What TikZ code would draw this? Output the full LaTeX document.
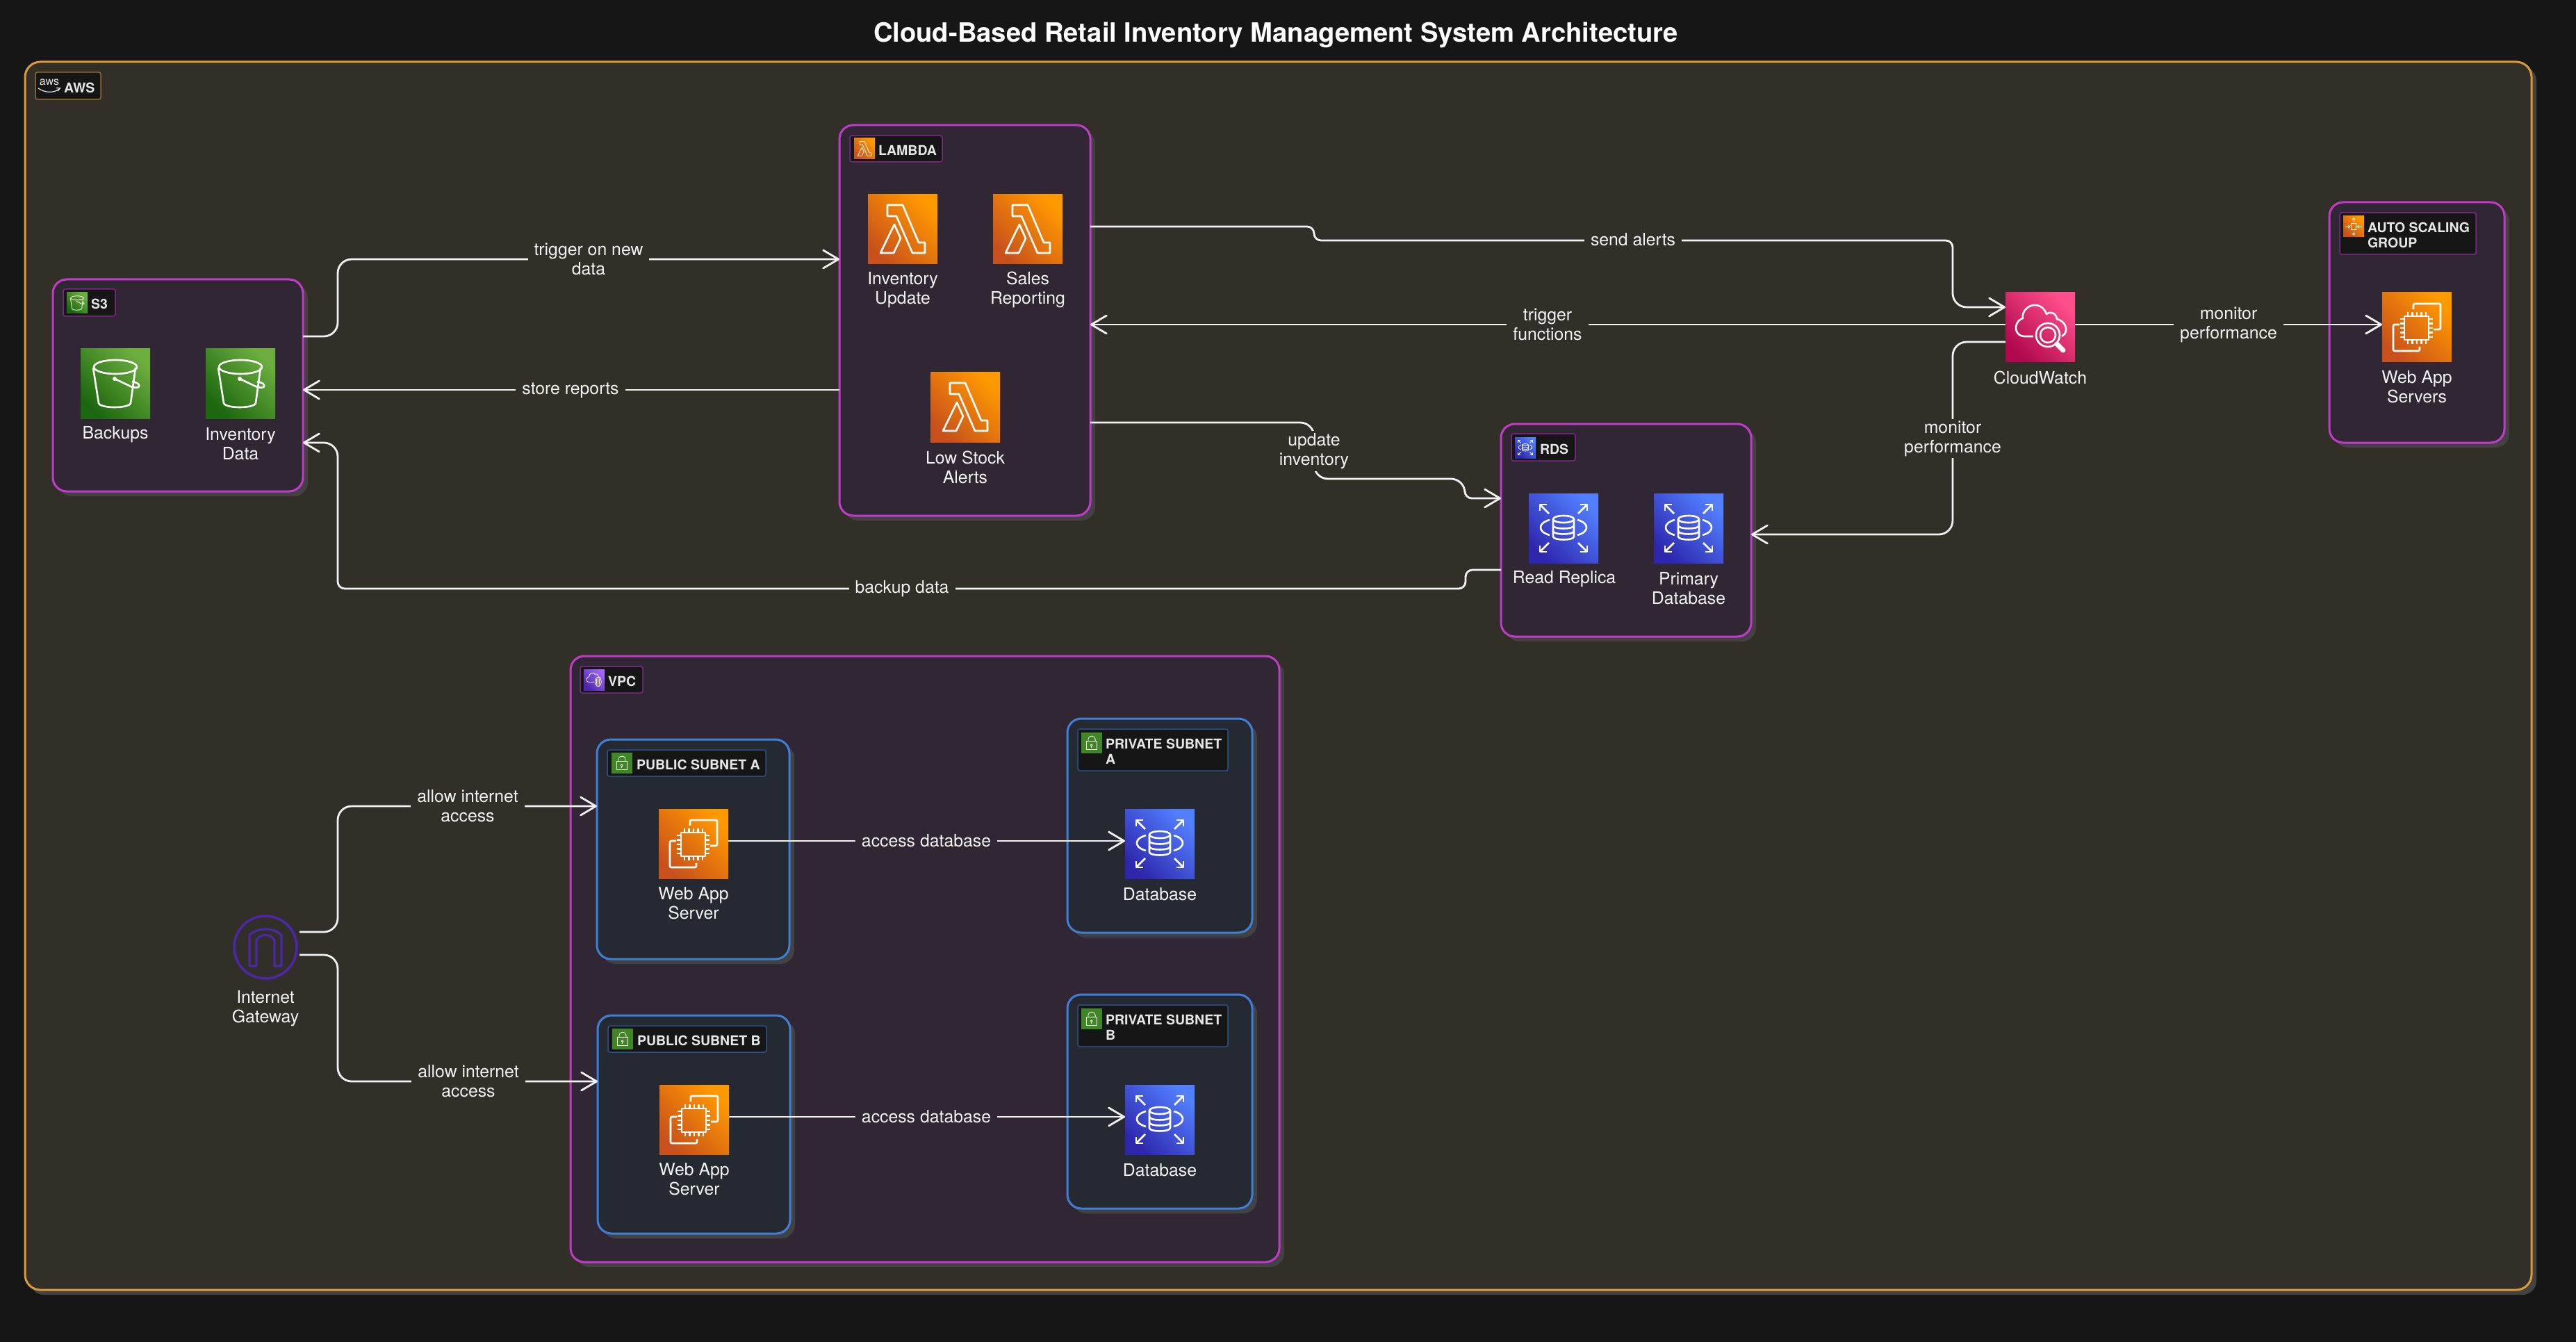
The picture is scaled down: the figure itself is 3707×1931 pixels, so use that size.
\documentclass[tikz,border=0pt]{standalone}
\usepackage{fontspec}
\setmainfont{TeX Gyre Heros}
\usetikzlibrary{arrows.meta,calc,shapes.geometric}
\definecolor{bgc}{HTML}{161616}
\definecolor{awsfill}{HTML}{322F28}
\definecolor{awsline}{HTML}{DC9A36}
\definecolor{awslab}{HTML}{8F6A33}
\definecolor{grpfill}{HTML}{312634}
\definecolor{grpline}{HTML}{C03CC8}
\definecolor{grplab}{HTML}{7A2A84}
\definecolor{subfill}{HTML}{252A32}
\definecolor{subline}{HTML}{3F7FD8}
\definecolor{sublab}{HTML}{2C4F84}
\definecolor{shadowc}{HTML}{424242}
\definecolor{txtc}{HTML}{F2F2F2}
\definecolor{labtxt}{HTML}{E6E6E6}
\definecolor{igwc}{HTML}{4D27AA}
\definecolor{orgA}{HTML}{C8511B}\definecolor{orgB}{HTML}{FF9900}
\definecolor{grnA}{HTML}{1B660F}\definecolor{grnB}{HTML}{6CAE3E}
\definecolor{bluA}{HTML}{2E27AD}\definecolor{bluB}{HTML}{527FFF}
\definecolor{pnkA}{HTML}{B0084D}\definecolor{pnkB}{HTML}{FF4F8B}
\definecolor{purA}{HTML}{4D27AA}\definecolor{purB}{HTML}{A166FF}
\definecolor{lockc}{HTML}{3F8624}
\tikzset{
  outer sep=0pt,
  awsbox/.style={draw=awsline,fill=awsfill,line width=1.5pt,rounded corners=11pt},
  grpbx/.style={draw=grpline,fill=grpfill,line width=1.5pt,rounded corners=10pt},
  subbx/.style={draw=subline,fill=subfill,line width=1.5pt,rounded corners=10pt},
  labaws/.style={draw=awslab,fill=bgc,line width=.75pt,rounded corners=1.5pt},
  labgrp/.style={draw=grplab,fill=bgc,line width=.75pt,rounded corners=1.5pt},
  labsub/.style={draw=sublab,fill=bgc,line width=.75pt,rounded corners=1.5pt},
  labtext/.style={font=\bfseries\fontsize{9.75}{11}\selectfont,text=labtxt,inner sep=0pt,align=left,anchor=west},
  svctext/.style={font=\fontsize{12.4}{14}\selectfont,text=txtc,inner sep=0pt,align=center,yshift=-1pt},
  elab/.style={font=\fontsize{12.4}{14}\selectfont,text=txtc,inner xsep=4.5pt,inner ysep=1.5pt,align=center,fill=awsfill,yshift=-1pt},
  elabv/.style={elab,fill=grpfill},
  conn/.style={draw=txtc,line width=1.4pt,-{Straight Barb[length=11pt,width=13pt,line width=1.4pt,round]}},
  gl/.style={draw=white,line join=round,fill=none},
  icobox/.style={inner sep=0pt},
  corange/.style={bottom color=orgA,top color=orgB,shading angle=-45},
  cgreen/.style={bottom color=grnA,top color=grnB,shading angle=-45},
  cblue/.style={bottom color=bluA,top color=bluB,shading angle=-45},
  cpink/.style={bottom color=pnkA,top color=pnkB,shading angle=-45},
  cpurple/.style={bottom color=purA,top color=purB,shading angle=-45},
  clock/.style={fill=lockc},
}
% name, style, x0,y0,x1,y1
\newcommand{\grpbox}[6]{%
  \pgfmathsetmacro{\bw}{(#5-#3)/2}\pgfmathsetmacro{\bh}{(#6-#4)/2}%
  \fill[shadowc,rounded corners=10pt] (#3+7,#4+7) rectangle (#5+7,#6+7);
  \node[#2,minimum width=\bw pt,minimum height=\bh pt,anchor=north west] (#1) at (#3,#4) {};
}
\newcommand{\labbox}[6]{%
  \pgfmathsetmacro{\bw}{(#5-#3)/2}\pgfmathsetmacro{\bh}{(#6-#4)/2}%
  \node[#2,minimum width=\bw pt,minimum height=\bh pt,anchor=north west] (#1) at (#3,#4) {};
}
% name, colour, glyph, x, y, size
\newcommand{\svcicon}[6]{%
  \pgfmathsetmacro{\bs}{#6/2}\pgfmathsetmacro{\su}{#6/200}%
  \pgfmathsetmacro{\lw}{#6*0.013}%
  \node[icobox,#2,minimum size=\bs pt,anchor=north west] (#1) at (#4,#5) {};
  \begin{scope}[shift={(#4,#5)},x=\su pt,y=-\su pt,line width=\lw pt]
    #3
  \end{scope}
}
\newcommand{\gBucket}{%
  \draw[gl] (50,26) ellipse [x radius=31,y radius=10];
  \draw[gl] (18,27) -- (26,78) .. controls (28,86) and (70,86) .. (72,78) -- (79,27);
  \fill[white] (49,43) circle [radius=3];
  \draw[gl] (49,43) -- (72,54) .. controls (80,57) and (86,56) .. (84,52) .. controls (83,49) and (78,48) .. (74,47);
}
\newcommand{\gLambda}{%
  \draw[gl] (28,15) -- (50,15) -- (73,69) -- (82,69) -- (82,84) -- (64,84) -- (41,31) -- (28,31) -- cycle;
  \draw[gl] (38,43) -- (47,63) -- (37,84) -- (18,84) -- cycle;
}
\newcommand{\gChip}{%
  \draw[gl] (32,34) rectangle (67,68);
  \foreach \p in {37,43.5,50,56.5,63} {\draw[gl] (\p,28) -- (\p,34); \draw[gl] (\p,68) -- (\p,74);}
  \foreach \p in {38,44.5,51,57.5,64} {\draw[gl] (26,\p) -- (32,\p); \draw[gl] (67,\p) -- (73,\p);}
  \draw[gl,rounded corners=1pt] (45,24) -- (45,16) -- (84,16) -- (84,53) -- (74,53);
  \draw[gl,rounded corners=1pt] (25,46) -- (16,46) -- (16,84) -- (54,84) -- (54,78);
}
\newcommand{\gRDS}{%
  \draw[gl] (50,37) ellipse [x radius=15,y radius=5];
  \draw[gl] (35,37) -- (35,62) .. controls (35,68) and (65,68) .. (65,62) -- (65,37);
  \draw[gl] (35,46) .. controls (35,52) and (65,52) .. (65,46);
  \draw[gl] (35,54) .. controls (35,60) and (65,60) .. (65,54);
  \draw[gl] (30,38) .. controls (20,41) and (17,45) .. (17,49) .. controls (17,53) and (20,57) .. (30,60);
  \draw[gl] (70,38) .. controls (80,41) and (83,45) .. (83,49) .. controls (83,53) and (80,57) .. (70,60);
  \draw[gl] (29,29) -- (16,16); \draw[gl] (16,25) -- (16,16) -- (26,16);
  \draw[gl] (71,29) -- (84,16); \draw[gl] (84,25) -- (84,16) -- (74,16);
  \draw[gl] (29,71) -- (16,84); \draw[gl] (16,75) -- (16,84) -- (26,84);
  \draw[gl] (71,71) -- (84,84); \draw[gl] (84,75) -- (84,84) -- (74,84);
}
\newcommand{\gWatch}{%
  \draw[gl] (40,63) -- (28,63) .. controls (18,63) and (14,55) .. (15,49) .. controls (16,42) and (21,38) .. (25,37) .. controls (23,28) and (32,18) .. (42,18) .. controls (51,18) and (57,24) .. (59,31) .. controls (65,26) and (73,30) .. (74,38) .. controls (82,40) and (88,47) .. (87,55) .. controls (87,58) and (85,60) .. (81,63);
  \draw[gl] (61,61) circle [radius=17];
  \draw[gl] (61,61) circle [radius=11];
  \draw[gl,line width=3.5pt,line cap=round] (74,74) -- (83,83);
}
\newcommand{\gLock}{%
  \draw[gl] (26,41) rectangle (74,81);
  \draw[gl] (33,41) -- (33,32) .. controls (33,12) and (67,12) .. (67,32) -- (67,41);
  \draw[gl] (49,61) circle [radius=5];
  \draw[gl] (49,66) -- (49,73);
}
\newcommand{\gASG}{%
  \draw[gl] (38,36) rectangle (62,64);
  \draw[gl] (50,28) -- (50,10); \draw[gl] (43,17) -- (50,10) -- (57,17);
  \draw[gl] (50,72) -- (50,90); \draw[gl] (43,83) -- (50,90) -- (57,83);
  \draw[gl] (10,50) -- (32,50); \draw[gl] (25,43) -- (32,50) -- (25,57);
  \draw[gl] (90,50) -- (68,50); \draw[gl] (75,43) -- (68,50) -- (75,57);
}
\newcommand{\gVPC}{%
  \draw[gl] (50,62) -- (25,62) .. controls (10,62) and (10,38) .. (25,36) .. controls (25,20) and (46,10) .. (54,24) .. controls (62,20) and (72,28) .. (72,36) .. controls (78,38) and (80,42) .. (80,46);
  \draw[gl] (69,60) ellipse [x radius=15,y radius=22];
  \draw[gl] (62,46) -- (62,74); \draw[gl] (69,40) -- (69,80); \draw[gl] (76,46) -- (76,74);
}
\begin{document}
\begin{tikzpicture}[x=.5pt,y=-.5pt]
\useasboundingbox (0,0) rectangle (3707,1931);
\fill[bgc] (0,0) rectangle (3707,1931);
\node[font=\bfseries\fontsize{19.1}{24}\selectfont,text=white,inner sep=0pt] (title) at (1836,50) {Cloud-Based Retail Inventory Management System Architecture};

% containers
\grpbox{aws}{awsbox}{36}{89}{3643}{1856}
\labbox{awslabel}{labaws}{51}{104}{145}{143}
\node[font=\fontsize{8}{8}\selectfont,text=labtxt,inner sep=0pt] (awslogo) at (71,118) {aws};
\draw[labtxt,line width=.6pt] (55,127) .. controls (65,134) and (78,134) .. (85,128);
\draw[labtxt,line width=.6pt] (81,126.5) -- (86.5,127) -- (83,131);
\node[labtext] (awstext) at (92,126) {AWS};

\grpbox{s3}{grpbx}{76}{402}{436}{707}
\labbox{s3label}{labgrp}{91}{416}{166}{455}
\svcicon{s3i}{cgreen}{\gBucket}{96}{421}{30}
\node[labtext] (s3text) at (131,437) {S3};
\svcicon{backups}{cgreen}{\gBucket}{116}{502}{100}
\svcicon{invdata}{cgreen}{\gBucket}{296}{502}{100}
\node[svctext] (backupst) at (166,623) {Backups};
\node[svctext] (invdatat) at (346,636.5) {Inventory\\Data};

\grpbox{lambda}{grpbx}{1208}{180}{1569}{742}
\labbox{lamlabel}{labgrp}{1223}{195}{1356}{233}
\svcicon{lami}{corange}{\gLambda}{1229}{199}{30}
\node[labtext] (lamtext) at (1264,216) {LAMBDA};
\svcicon{invupd}{corange}{\gLambda}{1249}{280}{100}
\svcicon{sales}{corange}{\gLambda}{1429}{280}{100}
\svcicon{lowstock}{corange}{\gLambda}{1339}{536}{100}
\node[svctext] (invupdt) at (1299,415) {Inventory\\Update};
\node[svctext] (salest) at (1479,415) {Sales\\Reporting};
\node[svctext] (lowstockt) at (1389,670) {Low Stock\\Alerts};

\grpbox{rds}{grpbx}{2160}{610}{2520}{916}
\labbox{rdslabel}{labgrp}{2175}{624}{2267}{663}
\svcicon{rdsi}{cblue}{\gRDS}{2180}{629}{30}
\node[labtext] (rdstext) at (2216,646) {RDS};
\svcicon{replica}{cblue}{\gRDS}{2200}{710}{100}
\svcicon{primary}{cblue}{\gRDS}{2380}{710}{100}
\node[svctext] (replicat) at (2251,831) {Read Replica};
\node[svctext] (primaryt) at (2430,845) {Primary\\Database};

\grpbox{asg}{grpbx}{3352}{291}{3604}{637}
\labbox{asglabel}{labgrp}{3367}{306}{3563}{366}
\svcicon{asgi}{corange}{\gASG}{3372}{311}{30}
\node[labtext] (asgtext) at (3407,338) {AUTO SCALING\\GROUP};
\svcicon{webapps}{corange}{\gChip}{3428}{421}{100}
\node[svctext] (webappst) at (3478,555) {Web App\\Servers};

\svcicon{cw}{cpink}{\gWatch}{2886}{421}{100}
\node[svctext] (cwt) at (2936,541) {CloudWatch};

\grpbox{vpc}{grpbx}{821}{944}{1841}{1816}
\labbox{vpclabel}{labgrp}{835}{959}{925}{997}
\svcicon{vpci}{cpurple}{\gVPC}{840}{963}{30}
\node[labtext] (vpctext) at (875,980) {VPC};

\grpbox{puba}{subbx}{859}{1064}{1136}{1380}
\labbox{pubalabel}{labsub}{874}{1079}{1102}{1117}
\svcicon{pubai}{clock}{\gLock}{880}{1083}{30}
\node[labtext] (pubatext) at (916,1100) {PUBLIC SUBNET A};
\svcicon{weba}{corange}{\gChip}{948}{1164}{100}
\node[svctext] (webat) at (998,1298) {Web App\\Server};

\grpbox{pubb}{subbx}{860}{1461}{1137}{1775}
\labbox{pubblabel}{labsub}{875}{1476}{1103}{1514}
\svcicon{pubbi}{clock}{\gLock}{881}{1480}{30}
\node[labtext] (pubbtext) at (917,1497) {PUBLIC SUBNET B};
\svcicon{webb}{corange}{\gChip}{949}{1561}{100}
\node[svctext] (webbt) at (999,1695) {Web App\\Server};

\grpbox{priva}{subbx}{1536}{1034}{1802}{1342}
\labbox{privalabel}{labsub}{1551}{1049}{1767}{1109}
\svcicon{privai}{clock}{\gLock}{1556}{1054}{30}
\node[labtext] (privatext) at (1591,1081.5) {PRIVATE SUBNET\\A};
\svcicon{dba}{cblue}{\gRDS}{1619}{1164}{100}
\node[svctext] (dbat) at (1669,1285) {Database};

\grpbox{privb}{subbx}{1536}{1431}{1802}{1739}
\labbox{privblabel}{labsub}{1551}{1446}{1767}{1506}
\svcicon{privbi}{clock}{\gLock}{1556}{1451}{30}
\node[labtext] (privbtext) at (1591,1478.5) {PRIVATE SUBNET\\B};
\svcicon{dbb}{cblue}{\gRDS}{1619}{1561}{100}
\node[svctext] (dbbt) at (1669,1682) {Database};

% internet gateway
\node[circle,draw=igwc,line width=1.75pt,minimum size=45pt,outer sep=2pt,inner sep=0pt] (igw) at (382,1363) {};
\draw[igwc,line width=1.6pt,line join=round] (359,1390) -- (359,1346) .. controls (368,1334) and (396,1334) .. (405,1346) -- (405,1390) -- (395,1390) -- (395,1353) .. controls (390,1343) and (374,1343) .. (369,1353) -- (369,1390) -- cycle;
\node[svctext] (igwt) at (382,1449) {Internet\\Gateway};

% connectors
\draw[conn,rounded corners=10pt] (s3.east |- 0,484) -- (486,484) -- (486,373) -- (lambda.west |- 0,373);
\draw[conn] (lambda.west |- 0,561) -- (s3.east |- 0,561);
\draw[conn] (lambda.east |- 0,326) [rounded corners=5pt] -- (1891,326) -- (1891,346) -- (2810,346) [rounded corners=10pt] -- (2810,442) -- (cw.west |- 0,442);
\draw[conn] (cw.west |- 0,467) -- (lambda.east |- 0,467);
\draw[conn] (lambda.east |- 0,608) [rounded corners=10pt] -- (1891,608) -- (1891,689) -- (2108,689) [rounded corners=5pt] -- (2108,717) -- (rds.west |- 0,717);
\draw[conn] (rds.west |- 0,820) [rounded corners=5pt] -- (2109,820) -- (2109,847) -- (486,847) [rounded corners=10pt] -- (486,637) -- (s3.east |- 0,637);
\draw[conn] (cw.east |- 0,467) -- (webapps.west |- 0,467);
\draw[conn,rounded corners=10pt] (cw.west |- 0,492) -- (2810,492) -- (2810,769) -- (rds.east |- 0,769);
\draw[conn,rounded corners=10pt] (igw.east |- 0,1341) -- (486,1341) -- (486,1160) -- (puba.west |- 0,1160);
\draw[conn,rounded corners=10pt] (igw.east |- 0,1374) -- (486,1374) -- (486,1556) -- (pubb.west |- 0,1556);
\draw[conn] (weba.east |- 0,1210) -- (dba.west |- 0,1210);
\draw[conn] (webb.east |- 0,1607) -- (dbb.west |- 0,1607);

% connector labels
\node[elab] (e1) at (847,371) {trigger on new\\data};
\node[elab] (e2) at (821,560) {store reports};
\node[elab] (e3) at (2350,343) {send alerts};
\node[elab] (e4) at (2227,465) {trigger\\functions};
\node[elab] (e5) at (1891,647) {update\\inventory};
\node[elab] (e6) at (1298,845) {backup data};
\node[elab] (e7) at (3207,465) {monitor\\performance};
\node[elab] (e8) at (2810,629) {monitor\\performance};
\node[elab] (e9) at (673,1158) {allow internet\\access};
\node[elab] (e10) at (674,1554) {allow internet\\access};
\node[elabv] (e11) at (1333,1208) {access database};
\node[elabv] (e12) at (1333,1605) {access database};
\end{tikzpicture}
\end{document}
